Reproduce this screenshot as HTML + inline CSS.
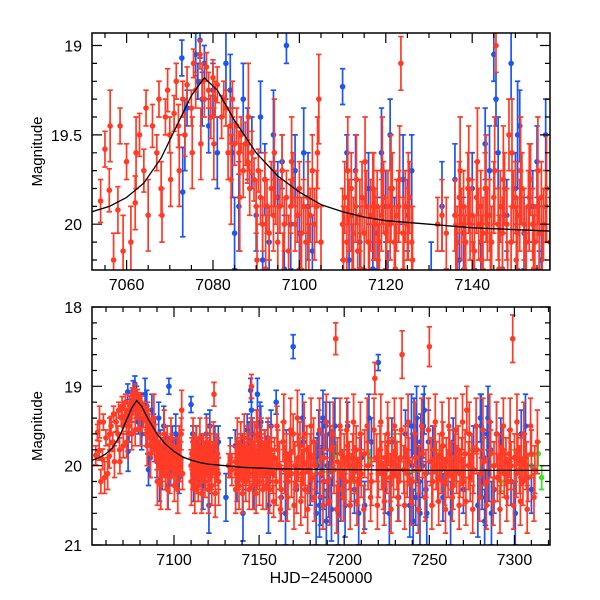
<!DOCTYPE html>
<html><head><meta charset="utf-8"><style>
html,body{margin:0;padding:0;background:#fff;}
svg{display:block;font-family:"Liberation Sans",sans-serif;}
</style></head><body>
<svg id="chart" width="600" height="600" viewBox="0 0 600 600" xmlns="http://www.w3.org/2000/svg">
<defs>
<clipPath id="clipTop"><rect x="92" y="33" width="458" height="237"/></clipPath>
<clipPath id="clipBot"><rect x="92" y="307" width="458" height="238"/></clipPath>
</defs>
</svg>
<script>
// ---- data ----
const redT=[7054,7055,7056,7057,7058,7058.5,7060,7061,7062,7063,7064,7064.5,7065,7066,7067,7067.5,7068,7069,7069.5,7070,7071,7071.5,7072,7073,7073.5,7074,7075,7075.5,7076,7077,7077.5,7078,7078.5,7079,7079.5,7080,7080.5,7081,7082,7082.5,7083,7083.5,7084,7084.5,7085,7085.5,7086,7086.5,7087,7087.5,7088,7088.5,7089,7089.5,7090,7090.5,7091,7091.5,7092,7092.5,7093,7093.5,7094,7094.5,7095,7095.5,7096,7096.5,7097,7097.5,7098,7098.5,7099,7099.5,7100,7100.5,7101,7101.5,7102,7102.5,7103,7103.5,7104,7104.5,7105,
7110,7110.5,7111,7111.5,7112,7112.5,7113,7113.5,7114,7114.5,7115,7115.5,7116,7116.5,7117,7117.5,7118,7118.5,7119,7119.5,7120,7120.5,7121,7121.5,7122,7122.5,7123,7123.5,7124,7124.5,7125,7125.5,7126,
7132,7133,7134,
7136,7136.5,7137,7137.5,7138,7138.5,7139,7139.5,7140,7140.5,7141,7141.5,7142,7142.5,7143,7143.5,7144,7144.5,7145,7145.5,7146,7146.5,7147,7147.5,7148,7148.5,7149,7149.5,7150,7150.5,7151,7151.5,7152,7152.5,7153,7153.5,7154,7154.5,7155,7155.5,7156,7156.5,7157,
7158,7159,7160,7161,7162,7163,7164,7165,7166,7167,7168,7169,7170,7171,7172,7173,7174,7175,7176,7177,7178,7179,7180,7181,7182,7183,
7186,7188,7190,7192,7194,7195,7196,7197,7198,7199,7200,7201,7202,7203,7204,7205,7206,7207,7208,7209,7210,7212,7214,7216,7218,7219,7220,7221,7222,7223,7224,7225,7226,7227,7228,7229,7230,7231,7232,7233,7234,7235,7236,7237,7238,7240,7242,7244,7246,7248,7250,7251,7252,7253,7254,7255,7256,7257,7258,7259,7260,7261,7262,7263,7264,7265,7266,7267,7268,7269,7270,7271,7272,7273,7274,7275,7276,7278,7280,7282,7284,7286,7288,7290,7291,7292,7293,7294,7295,7296,7297,7298,7299,7300,7301,7302,7303,7304,7305,7306,7307,7308,7310,7312,
7110.2,7111.2,7112.2,7113.2,7114.2,7115.2,7116.2,7117.2,7118.2,7119.2,7120.2,7121.2,7122.2,7123.2,7124.2,7125.2,7126.2,
7136.2,7137.2,7138.2,7139.2,7140.2,7141.2,7142.2,7143.2,7144.2,7145.2,7146.2,7147.2,7148.2,7149.2,7150.2,7151.2,7152.2,7153.2,7154.2,7155.2,7156.2,7157.2,
7090.2,7092.2,7094.2,7096.2,7098.2,7100.2,7102.2,7104.2,7086.2,7088.2,7084.2,7080.2,7077.2,7075.2,7072.2,7070.2,7068.2,7062.2,7059.2,7056.2,
7158.5,7160.5,7162.5,7164.5,7166.5,7168.5,7170.5,7172.5,7174.5,7176.5,7178.5,7180.5,7182.5,7185.5,7187.5,7189.5,7191.5,7193.5,7195.5,7197.5,7199.5,7201.5,7203.5,7205.5,7207.5,7209.5,7211.5,7213.5,7215.5,7217.5,7219.5,7221.5,7223.5,7225.5,7227.5,7229.5,7231.5,7233.5,7235.5,7237.5,7239.5,7241.5,7243.5,7245.5,7247.5,7249.5,7251.5,7253.5,7255.5,7257.5,7259.5,7261.5,7263.5,7265.5,7267.5,7269.5,7271.5,7273.5,7275.5,7277.5,7279.5,7281.5,7283.5,7285.5,7287.5,7289.5,7291.5,7293.5,7295.5,7297.5,7299.5,7301.5,7303.5,7305.5,7307.5,7309.5,7311.5,7313.5];
const redM=[19.87,19.58,19.81,20.2,19.92,19.45,19.65,20.1,19.88,19.5,19.7,19.35,19.95,19.45,19.6,19.3,19.8,19.4,19.25,19.5,19.38,19.2,19.45,19.3,19.5,19.22,19.35,19.1,19.25,19.05,19.2,19.3,19.12,19.25,19.4,19.18,19.3,19.22,19.4,19.3,19.35,19.6,19.45,19.3,19.55,19.45,19.6,19.5,19.7,19.55,19.65,19.8,19.6,19.75,19.9,19.7,19.85,20.0,19.75,19.9,20.05,19.8,19.95,19.85,20.1,19.9,19.7,20.0,19.85,20.15,19.9,19.75,20.0,19.95,19.8,20.05,19.9,20.1,19.85,19.95,19.7,20.0,19.9,19.3,20.1,
20.0,19.85,20.1,19.95,19.8,20.05,19.9,20.15,19.95,19.85,20.05,19.9,20.1,19.95,19.8,20.0,19.9,20.1,19.95,19.85,20.05,19.9,20.0,19.8,20.1,19.95,19.9,19.1,20.05,19.9,20.0,19.85,20.1,
20.0,19.95,20.05,
19.95,20.1,19.85,20.0,19.9,20.1,19.8,20.0,19.95,20.15,19.85,20.0,19.9,20.05,19.8,20.0,19.95,20.1,19.85,19.0,20.0,19.9,20.05,19.8,20.0,19.5,20.1,19.9,19.85,20.05,19.95,19.8,20.0,20.1,19.9,19.75,20.0,20.1,19.9,20.05,19.85,20.0,19.9,
20.1,19.9,20.2,19.8,20.0,20.3,19.7,20.05,19.9,20.2,19.85,20.1,19.6,20.0,20.25,19.9,19.75,20.1,19.95,20.3,19.8,20.05,19.9,20.15,19.7,20.0,
20.1,19.9,20.2,19.8,20.05,18.4,19.95,20.3,19.85,20.1,19.9,20.2,19.75,20.0,20.15,19.9,20.05,19.8,20.2,19.95,20.1,19.85,20.0,20.2,18.9,19.9,20.1,19.8,20.0,20.25,19.9,20.05,19.7,20.15,19.95,20.1,19.85,20.0,20.2,19.9,18.6,20.05,19.8,20.1,19.95,20.2,19.9,20.05,19.85,20.1,18.5,19.95,20.2,19.8,20.0,20.15,19.9,20.05,19.75,20.2,19.95,20.1,19.85,20.0,20.25,19.9,20.05,19.8,20.1,19.95,20.2,19.85,19.3,20.0,20.15,19.9,20.05,19.8,20.1,19.95,20.2,19.85,20.0,20.15,19.9,20.05,19.8,20.1,19.95,20.2,19.85,20.0,18.4,19.9,20.1,19.8,20.05,19.95,20.2,19.9,20.0,20.15,19.85,20.05,
20.2,19.7,20.3,19.75,20.25,19.65,20.35,19.9,20.2,19.7,20.3,19.8,20.25,19.75,20.35,19.9,20.2,
20.3,19.7,20.25,19.75,20.35,19.65,20.2,19.8,20.3,19.7,20.25,19.75,20.35,19.6,20.2,19.7,20.3,19.85,20.25,19.7,20.3,19.8,
20.2,20.25,19.6,20.3,19.65,20.25,20.3,19.6,19.85,19.4,19.75,19.55,19.55,19.6,19.7,19.75,19.95,19.6,20.15,19.45,
20.45,19.5,20.55,19.45,20.4,19.55,20.5,19.4,20.45,19.6,20.55,19.5,20.4,19.55,20.5,19.45,20.45,19.6,20.55,19.5,20.4,19.55,20.5,19.45,20.45,19.6,20.55,19.5,20.4,19.55,20.5,19.45,20.45,19.6,20.55,19.5,20.4,19.55,20.5,19.45,20.45,19.6,20.55,19.5,20.4,19.55,20.5,19.45,20.45,19.6,20.55,19.5,20.4,19.55,20.5,19.45,20.45,19.6,20.55,19.5,20.4,19.55,20.5,19.45,20.45,19.6,20.55,19.5,20.4,19.55,20.5,19.45,20.45,19.6,20.55,19.5,20.4,19.7];
const redE=[0.12,0.1,0.12,0.15,0.13,0.1,0.1,0.2,0.15,0.12,0.12,0.1,0.2,0.12,0.1,0.1,0.15,0.1,0.12,0.1,0.1,0.1,0.12,0.1,0.12,0.1,0.1,0.08,0.1,0.08,0.1,0.1,0.08,0.1,0.12,0.1,0.1,0.1,0.12,0.1,0.1,0.15,0.1,0.1,0.12,0.1,0.12,0.1,0.15,0.12,0.12,0.15,0.12,0.12,0.15,0.12,0.15,0.15,0.15,0.15,0.15,0.15,0.2,0.15,0.2,0.15,0.2,0.15,0.15,0.2,0.15,0.15,0.15,0.15,0.15,0.2,0.15,0.2,0.2,0.15,0.2,0.2,0.2,0.25,0.2,
0.2,0.2,0.2,0.2,0.2,0.2,0.2,0.2,0.2,0.2,0.2,0.2,0.2,0.2,0.2,0.2,0.2,0.2,0.2,0.2,0.2,0.2,0.2,0.2,0.2,0.2,0.2,0.15,0.2,0.2,0.2,0.2,0.2,
0.15,0.2,0.2,
0.2,0.2,0.2,0.2,0.2,0.2,0.2,0.2,0.2,0.2,0.2,0.2,0.2,0.2,0.2,0.2,0.2,0.2,0.2,0.15,0.2,0.2,0.2,0.2,0.2,0.2,0.2,0.2,0.2,0.2,0.2,0.2,0.2,0.2,0.2,0.2,0.2,0.2,0.2,0.2,0.2,0.2,0.2,
0.25,0.25,0.3,0.25,0.3,0.3,0.25,0.3,0.3,0.35,0.3,0.3,0.25,0.3,0.35,0.3,0.3,0.3,0.3,0.35,0.3,0.3,0.3,0.3,0.3,0.3,
0.3,0.3,0.3,0.3,0.3,0.2,0.3,0.35,0.3,0.3,0.3,0.3,0.3,0.3,0.3,0.3,0.3,0.3,0.3,0.3,0.3,0.3,0.3,0.3,0.2,0.3,0.3,0.3,0.3,0.3,0.3,0.3,0.3,0.3,0.3,0.3,0.3,0.3,0.3,0.3,0.3,0.3,0.3,0.3,0.3,0.3,0.3,0.3,0.3,0.3,0.25,0.3,0.3,0.3,0.3,0.3,0.3,0.3,0.3,0.3,0.3,0.3,0.3,0.3,0.3,0.3,0.3,0.3,0.3,0.3,0.3,0.3,0.3,0.3,0.3,0.3,0.3,0.3,0.3,0.3,0.3,0.3,0.3,0.3,0.3,0.3,0.3,0.3,0.3,0.3,0.3,0.3,0.3,0.3,0.3,0.2,0.3,0.3,0.3,0.3,0.3,0.3,0.3,0.3,0.3,0.3,0.3,
0.25,0.2,0.25,0.25,0.3,0.2,0.3,0.3,0.3,0.25,0.3,0.3,0.3,0.3,0.3,0.3,0.3,
0.3,0.25,0.3,0.25,0.3,0.25,0.3,0.3,0.3,0.25,0.3,0.3,0.3,0.25,0.3,0.3,0.3,0.3,0.3,0.3,0.3,0.3,
0.25,0.25,0.2,0.3,0.2,0.3,0.3,0.25,0.2,0.2,0.2,0.2,0.15,0.15,0.2,0.2,0.2,0.2,0.25,0.15,
0.35,0.3,0.4,0.3,0.35,0.3,0.4,0.3,0.35,0.3,0.4,0.3,0.35,0.3,0.4,0.3,0.35,0.3,0.4,0.3,0.35,0.3,0.4,0.3,0.35,0.3,0.4,0.3,0.35,0.3,0.4,0.3,0.35,0.3,0.4,0.3,0.35,0.3,0.4,0.3,0.35,0.3,0.4,0.3,0.35,0.3,0.4,0.3,0.35,0.3,0.4,0.3,0.35,0.3,0.4,0.3,0.35,0.3,0.4,0.3,0.35,0.3,0.4,0.3,0.35,0.3,0.4,0.3,0.35,0.3,0.4,0.3,0.35,0.3,0.4,0.3,0.35,0.3];
const blueT=[7072.8,7073,7074,7076,7076.5,7077,7077.5,7078,7079,7080,7083,7084,7084.5,7085,7087,7088,7089,7090,7091,7092,7093,7094,7095,7096,7097,7098,7099,7100,7101,7102,7103,7110,7111,7112,7113,7114,7116,7118,7119,7120,7122,7124,7125,7126,7133,7136,7138,7140,7142,7144,7145,7145.5,7146,7148,7149,7150,7152,7154,7155,7157,
7160,7163,7166,7170,7172,7176,7180,7184,7185,7186,7187,7188,7189,7190,7191,7193,7198,7202,7206,7210,7212,7216,7220,7224,7228,7232,7236,7240,7241,7242,7243,7244,7245,7246,7247,7248,7252,7258,7264,7270,7276,7280,7281,7282,7283,7284,7285,7286,7288,7292,7298,7304,7310,
7183.5,7185.5,7187.5,7189.5,7191.5,7192.5,7194.5,7196.5,7200.5,7208.5,7214.5,7226.5,7238.5,7239.5,7240.5,7242.5,7244.5,7246.5,7248.5,7249.5,7262.5,7278.5,7280.5,7282.5,7284.5,7286.5,7289.5,7300.5,7306.5,7120.5,7130.5,7140.5,7150.5,7155.5,7165.5,7175.5,
7073.5,7081,7086,7091.5,7096.5,7111.5,7117,7121,7137,7143,7147,7151,7156];
const blueM=[19.07,19.82,19.35,19.05,19.2,18.97,19.3,19.1,19.45,19.25,19.1,19.25,19.6,20.05,19.3,19.55,19.6,19.95,19.4,19.75,20.1,19.5,19.85,19.65,19.0,20.0,19.7,20.05,19.6,19.9,20.15,19.23,19.6,19.95,19.7,20.1,19.8,20.05,19.6,19.9,20.1,19.75,19.95,19.7,19.9,19.75,20.05,19.8,20.1,19.7,19.05,19.3,19.6,19.95,19.1,19.8,20.05,19.9,19.65,19.5,
19.2,20.4,19.85,18.5,20.3,19.7,20.2,20.0,19.6,20.4,19.8,20.2,19.5,20.0,20.3,19.9,20.4,19.5,20.3,19.9,20.5,19.7,18.7,20.3,19.7,20.4,19.6,20.0,19.5,20.4,19.8,20.2,19.7,20.0,19.3,20.3,19.8,20.4,19.7,20.3,19.8,19.4,20.2,19.9,20.4,19.6,20.1,19.8,20.3,19.7,20.2,19.6,20.3,
20.6,20.5,19.4,20.7,19.6,20.55,19.5,20.6,20.5,20.6,19.4,20.6,20.5,19.5,20.7,19.4,20.6,19.5,20.6,19.7,20.6,20.5,19.5,20.7,19.4,20.6,19.6,20.6,19.5,20.5,20.4,20.6,19.5,20.5,20.6,19.4,
19.5,19.6,19.9,20.2,20.25,20.2,20.25,19.5,20.2,19.55,20.25,19.45,20.2];
const blueE=[0.1,0.25,0.1,0.12,0.1,0.1,0.15,0.1,0.15,0.15,0.2,0.2,0.25,0.2,0.2,0.2,0.2,0.2,0.2,0.2,0.2,0.25,0.2,0.15,0.1,0.25,0.2,0.2,0.25,0.3,0.2,0.1,0.1,0.2,0.2,0.2,0.2,0.2,0.25,0.2,0.25,0.25,0.2,0.2,0.25,0.2,0.2,0.2,0.2,0.25,0.15,0.15,0.2,0.2,0.2,0.2,0.2,0.2,0.2,0.2,
0.15,0.3,0.3,0.15,0.3,0.3,0.3,0.35,0.3,0.35,0.35,0.35,0.3,0.4,0.35,0.35,0.3,0.3,0.3,0.3,0.3,0.3,0.1,0.3,0.3,0.3,0.3,0.4,0.35,0.35,0.4,0.35,0.35,0.4,0.3,0.35,0.3,0.3,0.3,0.3,0.3,0.3,0.35,0.35,0.35,0.35,0.35,0.35,0.3,0.3,0.3,0.3,0.3,
0.4,0.4,0.35,0.4,0.4,0.4,0.35,0.4,0.4,0.4,0.3,0.4,0.4,0.4,0.4,0.4,0.4,0.4,0.4,0.4,0.4,0.4,0.4,0.4,0.4,0.4,0.4,0.4,0.4,0.35,0.3,0.35,0.3,0.35,0.4,0.3,
0.2,0.2,0.25,0.25,0.3,0.25,0.3,0.2,0.25,0.2,0.3,0.2,0.3];
const greenT=[7185,7190,7195,7205,7215,7222,7230,7240,7255,7265,7275,7285,7292,7300,7310,7314,7316];
const greenM=[19.9,20.2,19.8,20.1,19.9,20.0,19.7,20.2,19.9,20.1,19.8,19.7,20.2,19.9,20.0,19.85,20.15];
const greenE=[0.12,0.12,0.1,0.12,0.1,0.12,0.1,0.12,0.1,0.12,0.1,0.12,0.12,0.1,0.12,0.15,0.15];
const curveT=[7052,7056,7060,7064,7068,7072,7075,7078,7081,7085,7090,7095,7100,7105,7110,7115,7120,7130,7140,7160,7200,7250,7322];
const curveM=[19.93,19.9,19.85,19.77,19.63,19.43,19.28,19.18,19.25,19.42,19.6,19.73,19.82,19.89,19.93,19.96,19.98,20.0,20.02,20.04,20.05,20.06,20.06];
const topXTicks=[7060,7080,7100,7120,7140];
const topYTicks=[19,19.5,20];
const botXTicks=[7100,7150,7200,7250,7300];
const botYTicks=[18,19,20,21];

const NS='http://www.w3.org/2000/svg';
const svg=document.getElementById('chart');
function mk(tag,attrs,parent){const e=document.createElementNS(NS,tag);for(const k in attrs)e.setAttribute(k,attrs[k]);(parent||svg).appendChild(e);return e;}

const panels=[
 {name:'top',x0:92,x1:550,y0:33,y1:270,tmin:7052,tmax:7158,mmin:18.93,mmax:20.256,clip:'clipTop',
  xt:topXTicks,xminor:5,yt:topYTicks,yminor:0.1},
 {name:'bottom',x0:92,x1:550,y0:307,y1:545,tmin:7051.8,tmax:7320.9,mmin:18,mmax:21,clip:'clipBot',
  xt:botXTicks,xminor:10,yt:botYTicks,yminor:0.2}
];
const COL={red:'#ff3b26',blue:'#1c55f0',green:'#3de02a'};

panels.forEach(p=>{
 const sx=t=>p.x0+(t-p.tmin)/(p.tmax-p.tmin)*(p.x1-p.x0);
 const sy=m=>p.y0+(m-p.mmin)/(p.mmax-p.mmin)*(p.y1-p.y0);
 const g=mk('g',{'clip-path':'url(#'+p.clip+')'});
 
 
 function series(T,M,E,color,label){
  const sg=mk('g',{stroke:color,fill:color,'stroke-width':1.7},g);
  
  
  for(let i=0;i<T.length;i++){
   const x=sx(T[i]),y=sy(M[i]),ya=sy(M[i]-E[i]),yb=sy(M[i]+E[i]);
   mk('path',{d:`M${x},${ya}V${yb}M${x-2.7},${ya}h5.4M${x-2.7},${yb}h5.4`,fill:'none'},sg);
   const c=mk('circle',{cx:x,cy:y,r:2.8,stroke:'none'},sg);
   
   
  }
 }
 series(greenT,greenM,greenE,COL.green,'green');
 series(blueT,blueM,blueE,COL.blue,'blue');
 series(redT,redM,redE,COL.red,'red');
 let d='';
 for(let i=0;i<curveT.length;i++)d+=(i?'L':'M')+sx(curveT[i]).toFixed(1)+','+sy(curveM[i]).toFixed(1);
 const cv=mk('path',{d:d,fill:'none',stroke:'#000','stroke-width':1.3},g);
 
 
 const fr=mk('rect',{x:p.x0,y:p.y0,width:p.x1-p.x0,height:p.y1-p.y0,fill:'none',stroke:'#000','stroke-width':1.5});
 
 
 const tg=mk('g',{stroke:'#000','stroke-width':1.2});
 
 
 let td='';
 const tstart=Math.ceil(p.tmin/p.xminor)*p.xminor;
 const majX=p.xminor*(p.name==='top'?4:5);
 for(let t=tstart;t<=p.tmax;t+=p.xminor){
  const x=sx(t).toFixed(1);const L=(Math.abs(t/majX-Math.round(t/majX))<1e-6)?10:5;
  td+=`M${x},${p.y1}v${-L}M${x},${p.y0}v${L}`;
 }
 const mstart=Math.ceil(p.mmin/p.yminor-1e-6)*p.yminor;
 const majY=p.name==='top'?0.5:1;
 for(let m=mstart;m<=p.mmax+1e-6;m+=p.yminor){
  const y=sy(m).toFixed(1);const L=(Math.abs(m/majY-Math.round(m/majY))<1e-6)?10:5;
  td+=`M${p.x0},${y}h${L}M${p.x1},${y}h${-L}`;
 }
 mk('path',{d:td,fill:'none'},tg);
 p.xt.forEach(t=>{
  const tx=mk('text',{x:sx(t),y:p.y1+20,'text-anchor':'middle','font-size':16,fill:'#000'});
  tx.textContent=t;
  
  
 });
 p.yt.forEach(m=>{
  const tx=mk('text',{x:p.x0-10,y:sy(m)+6,'text-anchor':'end','font-size':16,fill:'#000'});
  tx.textContent=String(m);
  
  
 });
 const cy=(p.y0+p.y1)/2;
 const yl=mk('text',{x:42,y:cy,'text-anchor':'middle','font-size':15,fill:'#000',transform:`rotate(-90 42 ${cy})`});
 yl.textContent='Magnitude';
 
 
});
const xl=mk('text',{x:321,y:583,'text-anchor':'middle','font-size':16,fill:'#000'});
xl.textContent='HJD\u22122450000';


</script>
</body></html>
